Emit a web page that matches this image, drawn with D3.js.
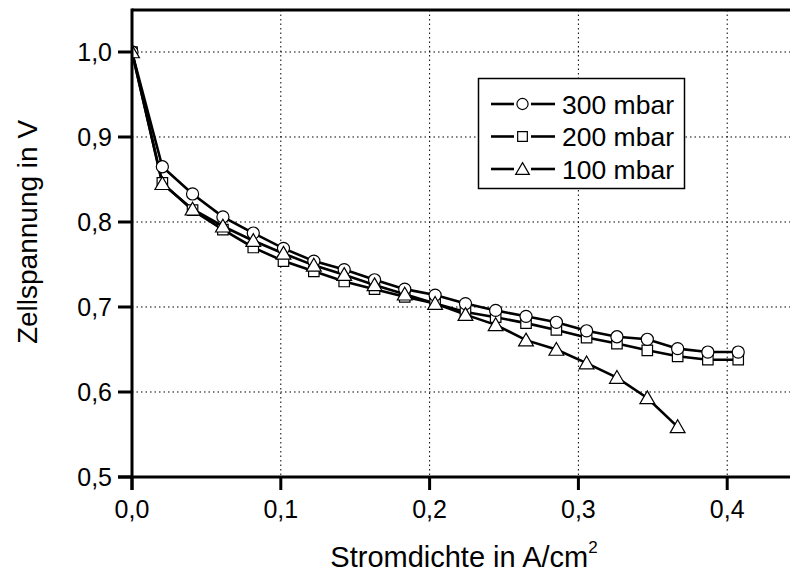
<!DOCTYPE html>
<html>
<head>
<title>Zellspannung vs Stromdichte</title>
<style>
  body { margin: 0; background: #fff; }
  svg { display: block; }
  text { font-family: "Liberation Sans", Arial, Helvetica, sans-serif; fill: #000; }
  .grid line { stroke: #000; stroke-width: 1; stroke-dasharray: 1.5,3; }
  .tick-label { font-size: 25px; }
  .axis-title { font-size: 28px; }
  .legend-text { font-size: 26.5px; }
</style>
</head>
<body>
<svg id="chart" width="790" height="577"></svg>
<script src="https://cdnjs.cloudflare.com/ajax/libs/d3/7.8.5/d3.min.js"></script>
<script>
  // current density steps (A/cm2)
  const stromdichte = d3.range(21).map(i => +(i * 0.02037).toFixed(4));

  const labels = ["300 mbar", "200 mbar", "100 mbar"];
  const v300 = [1.0, 0.865, 0.833, 0.806, 0.787, 0.769, 0.754, 0.744, 0.732, 0.721, 0.714,
                0.704, 0.696, 0.689, 0.682, 0.672, 0.665, 0.662, 0.651, 0.647, 0.647];
  const v200 = [1.0, 0.846, 0.814, 0.791, 0.770, 0.754, 0.742, 0.730, 0.721, 0.712, 0.704,
                0.694, 0.688, 0.681, 0.673, 0.664, 0.657, 0.649, 0.642, 0.638, 0.638];
  const v100 = [1.0, 0.845, 0.815, 0.795, 0.778, 0.763, 0.749, 0.738, 0.726, 0.715, 0.704,
                0.691, 0.679, 0.661, 0.650, 0.634, 0.617, 0.593, 0.559];

  const xTicks = [0.0, 0.1, 0.2, 0.3, 0.4];
  const yTicks = [0.5, 0.6, 0.7, 0.8, 0.9, 1.0];

  const svg = d3.select("#chart");
  const pLeft = 132, pRight = 790, pTop = 10, pBottom = 477;

  const x = d3.scaleLinear().domain([0, 0.4422]).range([pLeft, pRight]);
  const y = d3.scaleLinear().domain([0.5, 1.0494]).range([pBottom, pTop]);
  const fmt = d => d3.format(".1f")(d).replace(".", ",");

  // grid
  const grid = svg.append("g").attr("class", "grid");
  grid.selectAll(".gx").data(xTicks.filter(d => d > 0)).enter().append("line")
    .attr("x1", d => x(d)).attr("x2", d => x(d)).attr("y1", pTop).attr("y2", pBottom);
  grid.selectAll(".gy").data(yTicks.filter(d => d > 0.5)).enter().append("line")
    .attr("x1", pLeft).attr("x2", pRight).attr("y1", d => y(d)).attr("y2", d => y(d));

  svg.append("clipPath").attr("id", "plot-clip")
    .append("rect").attr("x", pLeft).attr("y", pTop).attr("width", pRight - pLeft).attr("height", pBottom - pTop);

  const series = [
    { name: labels[0], vals: v300, sym: d3.symbolCircle, size: 115 },
    { name: labels[1], vals: v200, sym: d3.symbolSquare, size: 110 },
    { name: labels[2], vals: v100, sym: d3.symbolTriangle, size: 95 }
  ];

  const plot = svg.append("g").attr("clip-path", "url(#plot-clip)");
  const line = d3.line().x(d => x(d[0])).y(d => y(d[1]));

  series.forEach(s => {
    const pts = s.vals.map((v, i) => [stromdichte[i], v]);
    plot.append("path").datum(pts).attr("d", line)
      .attr("fill", "none").attr("stroke", "#000").attr("stroke-width", 2.6);
  });

  // markers: squares below, then circles, triangles on top
  [series[1], series[0], series[2]].forEach(s => {
    const pts = s.vals.map((v, i) => [stromdichte[i], v]);
    const off = s.sym === d3.symbolTriangle ? 1.5 : 0;
    plot.selectAll(null).data(pts).enter().append("path")
      .attr("d", d3.symbol().type(s.sym).size(s.size))
      .attr("transform", d => `translate(${x(d[0])},${y(d[1]) + off})`)
      .attr("fill", "#fff").attr("stroke", "#000").attr("stroke-width", 1.2);
  });

  // axes frame
  svg.append("line").attr("x1", pLeft).attr("x2", pRight).attr("y1", pTop).attr("y2", pTop)
    .attr("stroke", "#000").attr("stroke-width", 3);
  svg.append("line").attr("x1", pLeft).attr("x2", pLeft).attr("y1", pTop - 1.5).attr("y2", pBottom + 13)
    .attr("stroke", "#000").attr("stroke-width", 3);
  svg.append("line").attr("x1", pLeft - 14).attr("x2", pRight).attr("y1", pBottom).attr("y2", pBottom)
    .attr("stroke", "#000").attr("stroke-width", 3);

  // y ticks
  svg.selectAll(".yt").data(yTicks).enter().append("line")
    .attr("x1", pLeft - 14).attr("x2", pLeft).attr("y1", d => y(d)).attr("y2", d => y(d))
    .attr("stroke", "#000").attr("stroke-width", 3);
  svg.selectAll(".yl").data(yTicks).enter().append("text")
    .attr("class", "tick-label").attr("x", 112).attr("y", d => y(d) + 9)
    .attr("text-anchor", "end").text(fmt);

  // x ticks
  svg.selectAll(".xt").data(xTicks).enter().append("line")
    .attr("x1", d => x(d)).attr("x2", d => x(d)).attr("y1", pBottom).attr("y2", pBottom + 13)
    .attr("stroke", "#000").attr("stroke-width", 3);
  svg.selectAll(".xl").data(xTicks).enter().append("text")
    .attr("class", "tick-label").attr("x", d => x(d)).attr("y", 518)
    .attr("text-anchor", "middle").text(fmt);

  // axis titles
  const xt = svg.append("text").attr("class", "axis-title").style("font-size", "29px")
    .attr("x", 464).attr("y", 567).attr("text-anchor", "middle");
  xt.append("tspan").text("Stromdichte in A/cm");
  xt.append("tspan").attr("dy", -14).style("font-size", "17px").text("2");

  svg.append("text").attr("class", "axis-title")
    .attr("transform", "translate(37,232) rotate(-90)")
    .attr("text-anchor", "middle").text("Zellspannung in V");

  // legend
  const lg = svg.append("g");
  lg.append("rect").attr("x", 478.5).attr("y", 78.5).attr("width", 206).attr("height", 110)
    .attr("fill", "#fff").attr("stroke", "#000").attr("stroke-width", 1.5);
  const rowY = [104, 136.5, 169];
  series.forEach((s, i) => {
    [[491, 514], [531, 555]].forEach(seg => {
      lg.append("line").attr("x1", seg[0]).attr("x2", seg[1]).attr("y1", rowY[i]).attr("y2", rowY[i])
        .attr("stroke", "#000").attr("stroke-width", 2.6);
    });
    lg.append("path").attr("d", d3.symbol().type(s.sym).size(s.size * 0.85))
      .attr("transform", `translate(522.5,${rowY[i] + (s.sym === d3.symbolTriangle ? 1.5 : 0)})`)
      .attr("fill", "#fff").attr("stroke", "#000").attr("stroke-width", 1.2);
    lg.append("text").attr("class", "legend-text").attr("x", 562).attr("y", rowY[i] + 9.5)
      .text(s.name);
  });
</script>
</body>
</html>
